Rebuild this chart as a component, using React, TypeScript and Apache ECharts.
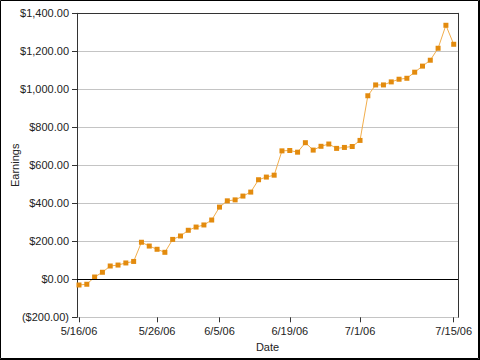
import React, { useEffect, useRef } from "react";
import * as echarts from "echarts";

const earnings: number[] = [
  -30, -26, 12, 37, 70, 75, 86, 94, 195, 175,
  158, 142, 210, 228, 258, 275, 286, 312, 380, 413,
  418, 438, 459, 524, 538, 548, 676, 678, 669, 719,
  680, 700, 712, 689, 694, 699, 731, 966, 1023, 1023,
  1039, 1053, 1058, 1090, 1122, 1153, 1216, 1337, 1237,
];

const tickIndices: number[] = [0, 10, 18, 27, 36, 48];
const tickLabels: string[] = ["5/16/06", "5/26/06", "6/5/06", "6/19/06", "7/1/06", "7/15/06"];

const fmtMoney = (v: number) => {
  const s = Math.abs(v).toLocaleString("en-US", { minimumFractionDigits: 2, maximumFractionDigits: 2 });
  return v < 0 ? `($${s})` : `$${s}`;
};

export default function App() {
  const ref = useRef<HTMLDivElement>(null);
  useEffect(() => {
    if (!ref.current) return;
    const chart = echarts.init(ref.current, undefined, { renderer: "svg" });
    const font = "Liberation Sans, Arial, sans-serif";
    const textColor = "#222";
    chart.setOption({
      animation: false,
      backgroundColor: "#fff",
      grid: { left: 77, right: 22, top: 13.3, bottom: 42.7, containLabel: false, outerBoundsMode: "none" },
      xAxis: [
        {
          type: "value",
          min: -0.256,
          max: 48.55,
          name: "Date",
          nameLocation: "middle",
          nameGap: 24,
          nameMoveOverlap: false,
          nameTextStyle: { color: textColor, fontFamily: font, fontSize: 11 },
          axisLine: { show: false, onZero: false },
          axisTick: { show: true, length: 5, customValues: tickIndices, lineStyle: { color: "#333" } },
          axisLabel: {
            customValues: tickIndices,
            margin: 8,
            color: textColor,
            fontFamily: font,
            fontSize: 11,
            formatter: (v: number) => {
              const k = tickIndices.indexOf(Math.round(v));
              return k >= 0 ? tickLabels[k] : "";
            },
          },
          splitLine: { show: false },
        },
        {
          type: "value",
          position: "top",
          min: -0.256,
          max: 48.55,
          axisLine: { show: true, onZero: false, lineStyle: { color: "#333" } },
          axisTick: { show: false },
          axisLabel: { show: false },
          splitLine: { show: false },
        },
      ],
      yAxis: [
        {
          type: "value",
          min: -200,
          max: 1400,
          interval: 200,
          name: "Earnings",
          nameLocation: "middle",
          nameGap: 57,
          nameMoveOverlap: false,
          nameTextStyle: { color: textColor, fontFamily: font, fontSize: 11 },
          axisLine: { show: true, onZero: false, lineStyle: { color: "#333" } },
          axisTick: { show: true, length: 5, lineStyle: { color: "#333" } },
          axisLabel: { margin: 8, color: textColor, fontFamily: font, fontSize: 11, formatter: fmtMoney },
          splitLine: { show: true, lineStyle: { color: "#c4c4c4", width: 1 } },
        },
        {
          type: "value",
          position: "right",
          min: -200,
          max: 1400,
          interval: 200,
          axisLine: { show: true, onZero: false, lineStyle: { color: "#333" } },
          axisTick: { show: false },
          axisLabel: { show: false },
          splitLine: { show: false },
        },
      ],
      graphic: [
        { type: "rect", shape: { x: 0.5, y: 0.5, width: 478, height: 358 }, style: { fill: "none", stroke: "#000", lineWidth: 1 }, silent: true },
        { type: "line", shape: { x1: 479.5, y1: 0, x2: 479.5, y2: 360 }, style: { stroke: "#000", lineWidth: 1 }, silent: true },
        { type: "line", shape: { x1: 0, y1: 359.5, x2: 480, y2: 359.5 }, style: { stroke: "#000", lineWidth: 1 }, silent: true },
      ],
      series: [
        {
          type: "line",
          data: earnings.map((v, i) => [i, v]),
          symbol: "rect",
          symbolSize: 5,
          lineStyle: { color: "#F2AE4C", width: 1 },
          itemStyle: { color: "#E38B0E" },
          markLine: {
            silent: true,
            symbol: "none",
            label: { show: false },
            lineStyle: { color: "#000", width: 1, type: "solid" },
            data: [{ yAxis: 0 }],
          },
        },
      ],
    });
    return () => chart.dispose();
  }, []);
  return (
    <div style={{ position: "fixed", left: 0, top: 0, width: 480, height: 360 }}>
      <div ref={ref} style={{ width: 480, height: 360 }} />
    </div>
  );
}
